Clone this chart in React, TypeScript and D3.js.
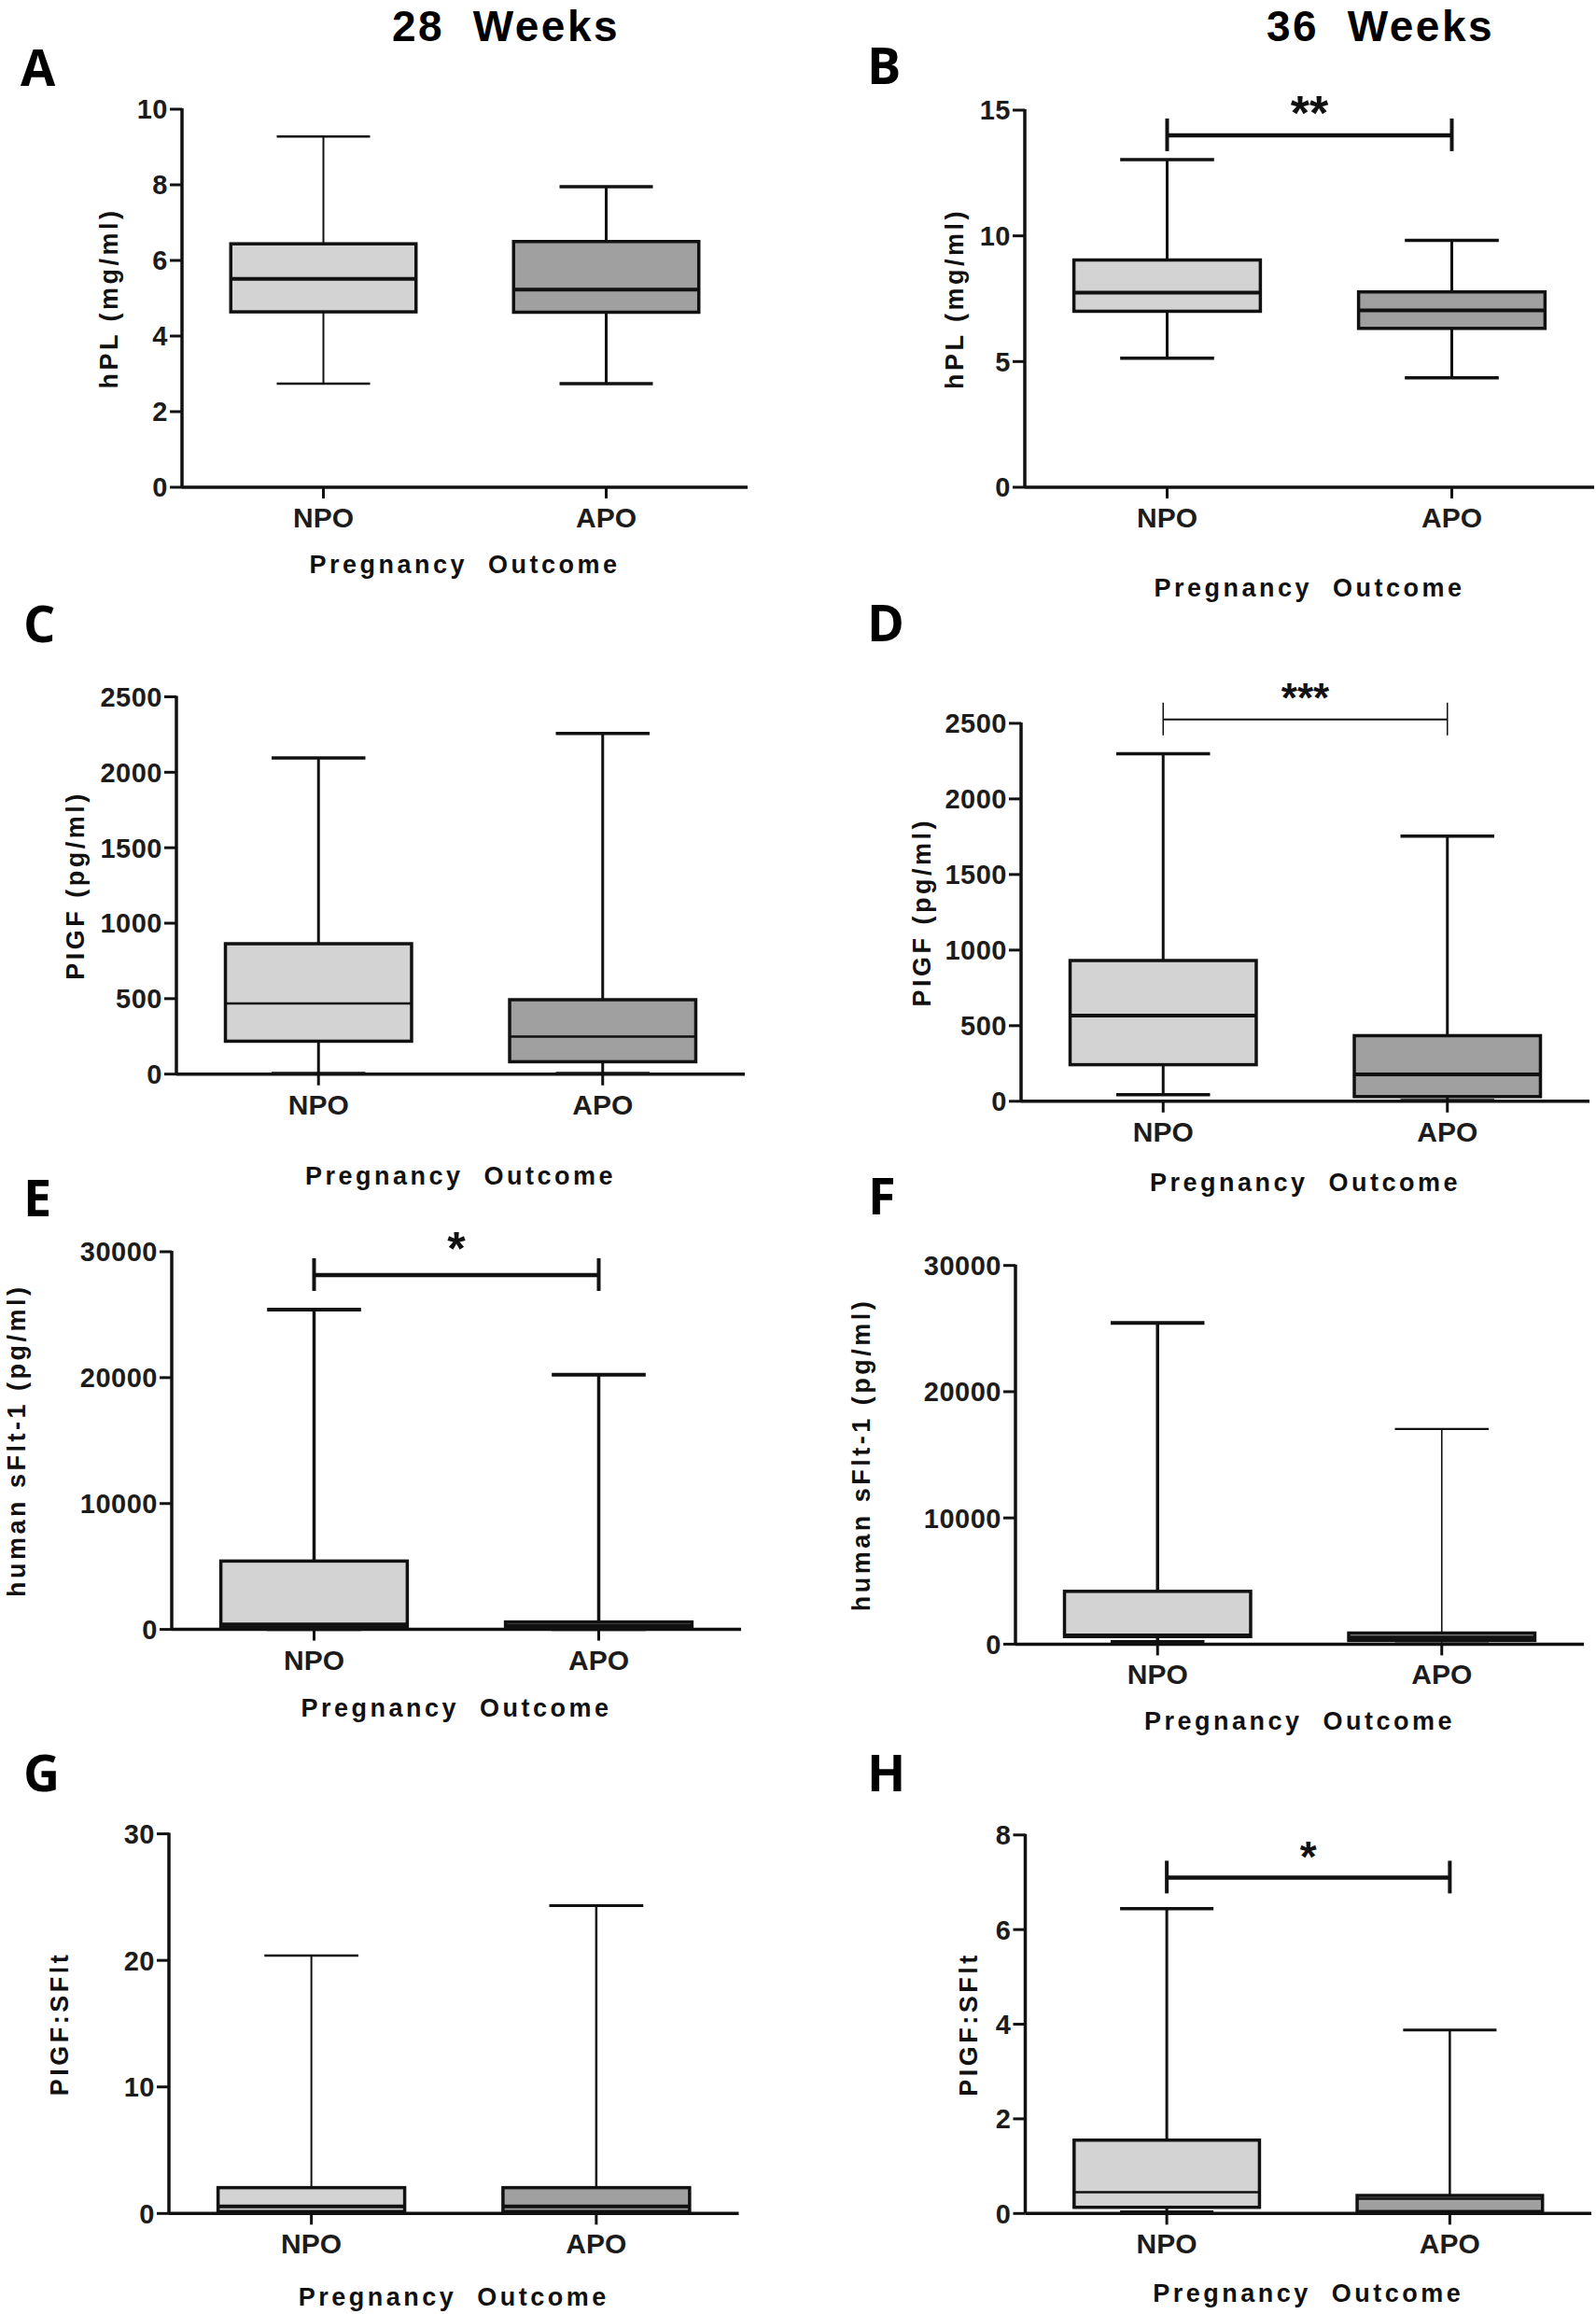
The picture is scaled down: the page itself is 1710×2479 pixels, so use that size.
import React from "react";
import * as d3 from "d3";

// ---------- data ----------
const groups = ["NPO", "APO"];
const panelLetters = ["A", "B", "C", "D", "E", "F", "G", "H"];
const columnTitles = ["28  Weeks", "36  Weeks"];
const yAxisTitles = [
  "hPL (mg/ml)", "hPL (mg/ml)",
  "PIGF (pg/ml)", "PIGF (pg/ml)",
  "human sFlt-1 (pg/ml)", "human sFlt-1 (pg/ml)",
  "PIGF:SFlt", "PIGF:SFlt",
];
const xAxisTitle = "Pregnancy  Outcome";
const yMax = [10, 15, 2500, 2500, 30000, 30000, 30, 8];
const yTicks = [
  [0, 2, 4, 6, 8, 10],
  [0, 5, 10, 15],
  [0, 500, 1000, 1500, 2000, 2500],
  [0, 500, 1000, 1500, 2000, 2500],
  [0, 10000, 20000, 30000],
  [0, 10000, 20000, 30000],
  [0, 10, 20, 30],
  [0, 2, 4, 6, 8],
];

// five-number summaries: [min, Q1, median, Q3, max]
const hpl28NPO = [2.74, 4.64, 5.51, 6.44, 9.28];
const hpl28APO = [2.74, 4.63, 5.23, 6.5, 7.95];
const hpl36NPO = [5.13, 7.0, 7.74, 9.04, 13.03];
const hpl36APO = [4.35, 6.32, 7.04, 7.77, 9.82];
const plgf28NPO = [5, 218, 468, 864, 2095];
const plgf28APO = [5, 82, 249, 493, 2257];
const plgf36NPO = [44, 242, 567, 931, 2299];
const plgf36APO = [5, 31, 178, 434, 1754];
const sflt28NPO = [30, 200, 390, 5430, 25400];
const sflt28APO = [20, 120, 300, 590, 20235];
const sflt36NPO = [180, 600, 700, 4185, 25440];
const sflt36APO = [60, 290, 520, 880, 17045];
const ratio28NPO = [0.02, 0.15, 0.55, 2.04, 20.39];
const ratio28APO = [0.02, 0.15, 0.55, 2.04, 24.32];
const ratio36NPO = [0.03, 0.13, 0.45, 1.55, 6.44];
const ratio36APO = [0.0, 0.04, 0.31, 0.38, 3.88];

const panelSeries = [
  [hpl28NPO, hpl28APO],
  [hpl36NPO, hpl36APO],
  [plgf28NPO, plgf28APO],
  [plgf36NPO, plgf36APO],
  [sflt28NPO, sflt28APO],
  [sflt36NPO, sflt36APO],
  [ratio28NPO, ratio28APO],
  [ratio36NPO, ratio36APO],
];

// significance brackets
const sigPanels = ["B", "D", "E", "H"];
const sigLabels = ["**", "***", "*", "*"];
const sigLevels = [14.0, 2525, 28150, 7.1];

// ---------- layout / style (kept apart from the data) ----------
const W = 1710;
const H = 2479;
const layout = [
  { ax: 195, ae: 801, y0: 522, y1: 117, ytx: 117, xtb: 614 },
  { ax: 1098, ae: 1708, y0: 522, y1: 118, ytx: 1023, xtb: 639 },
  { ax: 189, ae: 798, y0: 1150.7, y1: 746.5, ytx: 81, xtb: 1269 },
  { ax: 1094, ae: 1703, y0: 1179.8, y1: 774.9, ytx: 988, xtb: 1276 },
  { ax: 184, ae: 794, y0: 1745.6, y1: 1341, ytx: 18, xtb: 1839 },
  { ax: 1088, ae: 1697, y0: 1761.4, y1: 1355.7, ytx: 923, xtb: 1853 },
  { ax: 181, ae: 791.5, y0: 2371.3, y1: 1964.6, ytx: 64, xtb: 2470 },
  { ax: 1098.5, ae: 1705, y0: 2371.3, y1: 1965.8, ytx: 1038, xtb: 2466 },
];
const letterPos = [
  [22, 92], [929, 90], [25, 688], [929, 687],
  [25, 1303], [930, 1301], [25, 1919], [929, 1919],
];
const titlePos = [[542, 44], [1479, 44]];
const whiskerW = [
  [2, 3], [3, 3], [3, 3], [3, 3], [3.5, 3.5], [3.5, 1.6], [2, 2.5], [3, 2.5],
];
const medianW = [4, 4, 2.5, 4, 4, 4, 4, 2.5];
const sigStyle = [
  { w: 4.5, fs: 52, off: 6 },
  { w: 2, fs: 44, off: 8 },
  { w: 4.5, fs: 50, off: 11 },
  { w: 4.5, fs: 46, off: 6 },
];
const fills = ["#d3d3d3", "#a0a0a0"];
const ink = "#111";
const fontMain = "'Liberation Sans', Arial, Helvetica, sans-serif";
const fmt = d3.format("d");

function Panel({ i }: { i: number }) {
  const L = layout[i];
  const x = d3.scalePoint<string>().domain(groups).range([L.ax, L.ae]).padding(0.5);
  const y = d3.scaleLinear().domain([0, yMax[i]]).range([L.y0, L.y1]);
  const step = x.step();
  const boxW = step * 0.655;
  const capW = step * 0.33;
  const series = panelSeries[i];
  const sIdx = sigPanels.indexOf(panelLetters[i]);

  return (
    <g>
      {/* boxes */}
      {groups.map((g, gi) => {
        const [mn, q1, md, q3, mx] = series[gi];
        const cx = x(g) as number;
        const ww = whiskerW[i][gi];
        return (
          <g key={g}>
            <line x1={cx} x2={cx} y1={y(q3)} y2={y(mx)} stroke={ink} strokeWidth={ww} />
            <line x1={cx} x2={cx} y1={y(q1)} y2={y(mn)} stroke={ink} strokeWidth={ww} />
            <line x1={cx - capW / 2} x2={cx + capW / 2} y1={y(mx)} y2={y(mx)} stroke={ink} strokeWidth={ww + 0.5} />
            <line x1={cx - capW / 2} x2={cx + capW / 2} y1={y(mn)} y2={y(mn)} stroke={ink} strokeWidth={ww + 0.5} />
            <rect
              x={cx - boxW / 2}
              width={boxW}
              y={y(q3)}
              height={Math.max(0, y(q1) - y(q3))}
              fill={fills[gi]}
              stroke={ink}
              strokeWidth={3.5}
            />
            <line x1={cx - boxW / 2} x2={cx + boxW / 2} y1={y(md)} y2={y(md)} stroke={ink} strokeWidth={medianW[i]} />
          </g>
        );
      })}

      {/* y axis */}
      <line x1={L.ax} x2={L.ax} y1={y(yMax[i]) - 1} y2={L.y0} stroke={ink} strokeWidth={3.5} />
      {yTicks[i].map((t) => (
        <g key={t}>
          <line x1={L.ax - 13} x2={L.ax} y1={y(t)} y2={y(t)} stroke={ink} strokeWidth={3} />
          <text
            x={L.ax - 15}
            y={y(t)}
            dy="0.36em"
            textAnchor="end"
            fontFamily={fontMain}
            fontWeight="bold"
            fontSize={29}
            letterSpacing={0.5}
            fill="#1c1c1c"
          >
            {fmt(t)}
          </text>
        </g>
      ))}

      {/* x axis */}
      <line x1={L.ax} x2={L.ae} y1={L.y0} y2={L.y0} stroke={ink} strokeWidth={3.5} />
      {groups.map((g) => (
        <g key={g}>
          <line x1={x(g)} x2={x(g)} y1={L.y0} y2={L.y0 + 12} stroke={ink} strokeWidth={3} />
          <text
            x={x(g)}
            y={L.y0 + 43}
            textAnchor="middle"
            fontFamily={fontMain}
            fontWeight="bold"
            fontSize={30}
            fill="#1c1c1c"
          >
            {g}
          </text>
        </g>
      ))}

      {/* axis titles */}
      <text
        transform={`translate(${L.ytx},${(L.y0 + L.y1) / 2}) rotate(-90)`}
        textAnchor="middle"
        dominantBaseline="central"
        fontFamily={fontMain}
        fontWeight="bold"
        fontSize={27}
        letterSpacing={3.5}
        fill={ink}
      >
        {yAxisTitles[i]}
      </text>
      <text
        x={(L.ax + L.ae) / 2}
        y={L.xtb}
        textAnchor="middle"
        fontFamily={fontMain}
        fontWeight="bold"
        fontSize={27}
        letterSpacing={3.5}
        fill={ink}
        style={{ whiteSpace: "pre" }}
      >
        {xAxisTitle}
      </text>

      {/* significance bracket */}
      {sIdx >= 0 && (() => {
        const sy = y(sigLevels[sIdx]);
        const xa = x(groups[0]) as number;
        const xb = x(groups[1]) as number;
        const st = sigStyle[sIdx];
        return (
          <g>
            <line x1={xa} x2={xb} y1={sy} y2={sy} stroke={ink} strokeWidth={st.w} />
            <line x1={xa} x2={xa} y1={sy - 18} y2={sy + 17} stroke={ink} strokeWidth={st.w - 0.5} />
            <line x1={xb} x2={xb} y1={sy - 18} y2={sy + 17} stroke={ink} strokeWidth={st.w - 0.5} />
            <text
              x={(xa + xb) / 2}
              y={sy - st.off}
              textAnchor="middle"
              fontFamily={fontMain}
              fontWeight="bold"
              fontSize={st.fs}
              fill={ink}
            >
              {sigLabels[sIdx]}
            </text>
          </g>
        );
      })()}

      {/* panel letter */}
      <text
        x={letterPos[i][0]}
        y={letterPos[i][1]}
        fontFamily="'Open Sans', 'Liberation Sans', sans-serif"
        fontWeight={700}
        fontSize={54}
        fill="#000"
      >
        {panelLetters[i]}
      </text>
    </g>
  );
}

export default function App() {
  return (
    <svg
      width={W}
      height={H}
      viewBox={`0 0 ${W} ${H}`}
      style={{ position: "absolute", left: 0, top: 0, background: "#fff" }}
    >
      <rect width={W} height={H} fill="#fff" />
      {columnTitles.map((t, k) => (
        <text
          key={t}
          x={titlePos[k][0]}
          y={titlePos[k][1]}
          textAnchor="middle"
          fontFamily={fontMain}
          fontWeight="bold"
          fontSize={46}
          letterSpacing={2.5}
          fill="#000"
          style={{ whiteSpace: "pre" }}
        >
          {t}
        </text>
      ))}
      {panelLetters.map((_, i) => (
        <Panel key={i} i={i} />
      ))}
    </svg>
  );
}
